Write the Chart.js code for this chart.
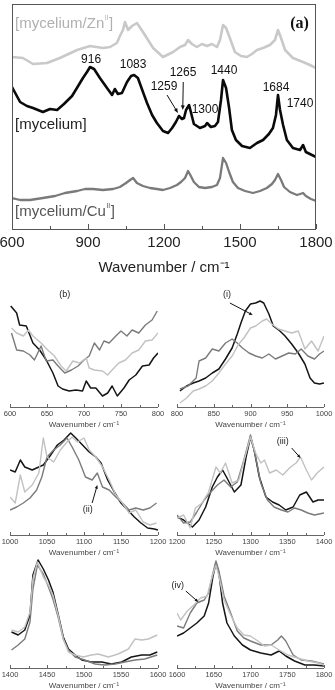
<!DOCTYPE html>
<html>
<head>
<meta charset="utf-8">
<script src="https://cdn.jsdelivr.net/npm/chart.js@4.4.1/dist/chart.umd.min.js"></script>
<style>
  body { margin: 0; background: #fff; width: 335px; height: 690px; overflow: hidden; position: relative; }
  canvas { position: absolute; }
</style>
</head>
<body>
<canvas id="chart-a" width="335" height="285" style="left:0;top:0"></canvas>
<canvas id="chart-b1" width="167" height="144" style="left:0;top:287px"></canvas>
<canvas id="chart-b2" width="168" height="144" style="left:167px;top:287px"></canvas>
<canvas id="chart-b3" width="167" height="144" style="left:0;top:415px"></canvas>
<canvas id="chart-b4" width="168" height="144" style="left:167px;top:415px"></canvas>
<canvas id="chart-b5" width="167" height="144" style="left:0;top:548px"></canvas>
<canvas id="chart-b6" width="168" height="144" style="left:167px;top:548px"></canvas>
<script>
// ---- panel (a): full range spectra, [wavenumber, intensity (offset, a.u.)]
const aZn = [[600,172],[643,171],[683,165],[738,166],[789,171],[857,179],[908,183],[959,181],[987,182],[1014,186],[1026,193],[1038,199],[1046,207],[1058,199],[1074,203],[1093,206],[1117,197],[1157,181],[1196,172],[1236,177],[1263,182],[1283,184],[1295,189],[1310,185],[1330,182],[1350,185],[1370,183],[1389,185],[1409,182],[1421,189],[1433,204],[1445,201],[1460,191],[1480,177],[1504,173],[1527,172],[1547,175],[1567,179],[1591,181],[1618,184],[1638,189],[1650,199],[1662,191],[1678,179],[1709,171],[1749,167],[1776,164],[1800,161]];
const aMycelium = [[600,142],[632,127],[659,123],[683,121],[722,117],[750,120],[778,119],[805,125],[837,133],[861,143],[880,151],[896,157],[908,162],[924,160],[947,151],[975,141],[995,134],[1006,140],[1018,135],[1034,136],[1054,147],[1070,153],[1082,154],[1097,151],[1117,137],[1133,126],[1153,114],[1172,106],[1196,98],[1216,96],[1232,101],[1247,107],[1259,113],[1271,110],[1279,111],[1287,119],[1299,124],[1306,117],[1318,105],[1342,101],[1362,103],[1370,106],[1385,102],[1401,103],[1413,107],[1425,129],[1433,149],[1445,141],[1457,121],[1468,99],[1484,89],[1508,83],[1539,81],[1567,86],[1591,89],[1614,95],[1630,101],[1642,114],[1650,134],[1658,119],[1670,104],[1685,89],[1709,81],[1737,79],[1749,84],[1760,77],[1776,75],[1800,72]];
const aCu = [[600,31],[632,29],[671,29],[722,31],[770,33],[809,36],[857,38],[888,40],[920,40],[959,39],[999,40],[1026,42],[1050,46],[1066,49],[1078,51],[1093,46],[1117,43],[1145,41],[1172,40],[1196,39],[1224,41],[1251,44],[1267,47],[1283,51],[1295,58],[1306,53],[1318,47],[1338,42],[1362,41],[1389,42],[1409,44],[1421,51],[1433,71],[1445,66],[1457,57],[1472,47],[1492,41],[1520,38],[1551,36],[1579,38],[1606,41],[1626,45],[1638,49],[1650,55],[1662,49],[1674,42],[1697,37],[1725,34],[1749,36],[1760,33],[1780,30],[1800,28]];
const aTicks = [600, 900, 1200, 1500, 1800];
const aPeaks = [['916',912,169],['1083',1078,164],['1259',1200,142],['1265',1275,156],['1440',1437,158],['1684',1642,141],['1740',1737,125],['1300',1362,119]];

// ---- panels (b): zoomed windows
const b1Black = [[601,101],[609,94],[613,82],[622,81],[631,64],[640,57],[649,47],[658,34],[665,21],[671,18],[680,16],[689,17],[698,16],[703,26],[709,19],[716,19],[725,11],[732,14],[738,21],[745,11],[754,19],[761,27],[770,32],[779,41],[788,42],[794,49],[800,54]];
const b1Zn = [[602,79],[609,74],[618,71],[625,77],[631,71],[642,64],[651,57],[660,51],[669,41],[676,36],[685,46],[694,44],[703,49],[707,39],[714,37],[725,36],[732,32],[738,37],[747,44],[756,47],[765,54],[774,57],[783,66],[792,67],[800,74]];
const b1Cu = [[602,74],[609,57],[618,56],[627,52],[633,47],[642,61],[649,46],[658,47],[665,41],[674,34],[683,37],[692,41],[700,47],[707,51],[714,64],[721,57],[727,66],[734,64],[743,71],[750,76],[758,71],[765,77],[774,74],[783,82],[792,87],[799,96]];

const b2Black = [[804,16],[813,21],[822,24],[830,26],[839,29],[848,34],[857,38],[866,48],[875,59],[882,73],[887,84],[893,96],[900,103],[907,104],[913,106],[918,104],[925,93],[931,81],[940,76],[947,71],[956,63],[965,54],[974,43],[981,29],[987,24],[994,23],[1000,24]];
const b2Zn = [[804,4],[813,9],[822,16],[830,18],[839,21],[848,26],[857,34],[866,43],[875,51],[884,63],[891,69],[900,79],[907,81],[916,86],[922,88],[929,83],[938,78],[947,76],[956,74],[965,76],[974,58],[983,66],[992,56],[1000,71]];
const b2Cu = [[804,18],[815,21],[826,29],[830,46],[839,49],[848,58],[857,56],[866,64],[875,68],[882,64],[889,59],[898,54],[907,51],[916,49],[925,53],[934,48],[943,51],[952,54],[961,53],[969,58],[978,51],[987,48],[994,53],[1000,56]];

const b3Black = [[1000,65],[1007,63],[1014,75],[1020,68],[1030,65],[1039,68],[1045,70],[1055,80],[1064,90],[1073,95],[1082,102],[1089,97],[1098,90],[1107,83],[1116,78],[1123,72],[1132,55],[1141,43],[1150,32],[1159,25],[1168,18],[1177,12],[1186,7],[1195,6],[1200,5]];
const b3Zn = [[1000,38],[1007,32],[1014,60],[1020,43],[1030,50],[1039,62],[1045,97],[1050,78],[1059,73],[1068,85],[1077,93],[1084,98],[1091,93],[1100,97],[1107,85],[1116,78],[1125,68],[1134,55],[1143,40],[1152,32],[1161,22],[1170,25],[1180,13],[1189,10],[1198,12]];
const b3Cu = [[1000,25],[1009,28],[1018,32],[1027,37],[1036,45],[1043,58],[1050,78],[1059,85],[1068,90],[1077,97],[1084,88],[1093,75],[1102,58],[1111,55],[1118,62],[1125,48],[1134,45],[1143,38],[1152,32],[1161,25],[1170,27],[1180,25],[1189,27],[1198,32]];

const b4Black = [[1200,18],[1209,15],[1221,8],[1230,15],[1239,28],[1248,48],[1255,58],[1262,65],[1268,57],[1278,43],[1287,50],[1294,78],[1300,98],[1305,85],[1312,58],[1321,38],[1330,33],[1339,30],[1348,25],[1358,28],[1367,40],[1376,43],[1385,33],[1392,35],[1400,35]];
const b4Zn = [[1200,17],[1209,20],[1218,7],[1225,27],[1234,32],[1243,43],[1253,68],[1259,62],[1266,72],[1275,52],[1284,55],[1294,82],[1300,98],[1307,82],[1314,72],[1319,75],[1326,62],[1335,65],[1344,60],[1353,67],[1362,72],[1368,78],[1376,65],[1383,55],[1392,63],[1400,68]];
const b4Cu = [[1200,20],[1209,12],[1218,13],[1227,23],[1237,35],[1246,43],[1255,50],[1264,55],[1273,48],[1282,53],[1291,75],[1300,100],[1307,78],[1314,52],[1323,35],[1332,28],[1342,25],[1351,23],[1360,27],[1369,25],[1378,22],[1387,20],[1400,22]];

const b5Black = [[1402,36],[1411,33],[1420,38],[1427,53],[1431,93],[1438,108],[1445,99],[1452,88],[1458,76],[1465,54],[1472,31],[1479,19],[1488,13],[1497,8],[1510,6],[1524,6],[1537,4],[1551,6],[1564,11],[1578,13],[1589,13],[1599,16]];
const b5Zn = [[1402,38],[1411,36],[1420,41],[1427,56],[1431,89],[1437,106],[1445,91],[1452,83],[1458,73],[1465,53],[1472,29],[1479,16],[1488,13],[1499,11],[1510,13],[1519,14],[1533,11],[1546,14],[1560,19],[1569,29],[1578,28],[1587,29],[1599,33]];
const b5Cu = [[1402,18],[1411,23],[1420,29],[1427,46],[1431,79],[1437,103],[1445,94],[1452,81],[1458,69],[1465,51],[1472,29],[1479,18],[1488,11],[1501,8],[1515,4],[1528,3],[1542,4],[1555,6],[1569,8],[1582,9],[1599,13]];

const b6Black = [[1600,32],[1609,35],[1618,40],[1627,45],[1637,52],[1643,65],[1649,92],[1653,105],[1657,95],[1662,65],[1668,45],[1678,32],[1689,23],[1700,18],[1714,15],[1728,13],[1739,17],[1748,12],[1760,7],[1774,3],[1787,3],[1800,2]];
const b6Zn = [[1600,55],[1605,48],[1614,57],[1623,63],[1632,70],[1641,72],[1648,92],[1653,103],[1657,92],[1664,68],[1673,53],[1682,40],[1691,33],[1700,32],[1710,27],[1719,22],[1728,23],[1739,18],[1751,13],[1764,10],[1778,7],[1792,5],[1800,3]];
const b6Cu = [[1600,42],[1609,40],[1618,55],[1627,65],[1637,68],[1643,75],[1649,95],[1653,107],[1657,97],[1664,72],[1673,55],[1682,37],[1691,30],[1700,27],[1714,23],[1728,23],[1737,28],[1742,32],[1748,27],[1758,13],[1769,8],[1783,7],[1800,4]];

const SANS = 'Arial, "Liberation Sans", sans-serif';
const AXIS_TITLE = 'Wavenumber / cm\u207B\u00B9';

function toPoints(pairs) {
    return pairs.map(p => ({ x: p[0], y: p[1] }));
}

function drawArrow(ctx, x1, y1, x2, y2, head) {
    const ang = Math.atan2(y2 - y1, x2 - x1);
    ctx.beginPath();
    ctx.moveTo(x1, y1);
    ctx.lineTo(x2 - Math.cos(ang) * head * 0.8, y2 - Math.sin(ang) * head * 0.8);
    ctx.stroke();
    ctx.beginPath();
    ctx.moveTo(x2, y2);
    ctx.lineTo(x2 - head * Math.cos(ang - 0.4), y2 - head * Math.sin(ang - 0.4));
    ctx.lineTo(x2 - head * Math.cos(ang + 0.4), y2 - head * Math.sin(ang + 0.4));
    ctx.closePath();
    ctx.fill();
}

// frame / axis line, inward ticks, labels and arrows
const decorPlugin = {
    id: 'decor',
    afterDatasetsDraw(chart, args, o) {
        const ctx = chart.ctx;
        const a = chart.chartArea;
        const xs = chart.scales.x;
        const ys = chart.scales.y;
        ctx.save();
        ctx.strokeStyle = o.axisColor;
        ctx.lineWidth = 1;
        if (o.frame) {
            ctx.strokeRect(a.left + 0.5, a.top + 0.5, a.right - a.left - 1, a.bottom - a.top);
        } else {
            ctx.beginPath();
            ctx.moveTo(a.left, a.bottom + 0.5);
            ctx.lineTo(a.right, a.bottom + 0.5);
            ctx.stroke();
        }
        ctx.beginPath();
        for (let v = xs.min; v <= xs.max; v += o.minor) {
            const px = Math.round(xs.getPixelForValue(v)) + 0.5;
            const len = (v - xs.min) % o.major === 0 ? o.majorLen : o.minorLen;
            ctx.moveTo(px, a.bottom);
            ctx.lineTo(px, a.bottom - len);
        }
        ctx.stroke();

        ctx.strokeStyle = '#111';
        ctx.fillStyle = '#111';
        ctx.lineWidth = o.arrowWidth || 1;
        (o.arrows || []).forEach(ar => {
            drawArrow(ctx, xs.getPixelForValue(ar[0]), ys.getPixelForValue(ar[1]),
                xs.getPixelForValue(ar[2]), ys.getPixelForValue(ar[3]), o.arrowHead || 4);
        });

        ctx.textBaseline = 'middle';
        (o.notes || []).forEach(n => {
            let x = xs.getPixelForValue(n.x);
            const y = ys.getPixelForValue(n.y);
            ctx.fillStyle = n.color;
            ctx.font = n.font;
            ctx.textAlign = n.align || 'center';
            if (!n.sup) {
                ctx.fillText(n.text, x, y);
                return;
            }
            ctx.textAlign = 'left';
            ctx.fillText(n.text, x, y);
            x += ctx.measureText(n.text).width + 0.5;
            ctx.font = n.supFont;
            ctx.fillText(n.sup, x, y - 6);
            x += ctx.measureText(n.sup).width + 0.5;
            ctx.font = n.font;
            ctx.fillText(n.after, x, y);
        });
        ctx.restore();
    }
};

function xScale(min, max, step, tickFont, titleFont, color, height, pad, titlePad) {
    return {
        type: 'linear',
        min: min,
        max: max,
        grid: { display: false, drawTicks: false },
        border: { display: false },
        ticks: {
            stepSize: step, autoSkip: false, maxRotation: 0, padding: pad, color: color,
            font: { family: SANS, size: tickFont },
            callback: value => String(value)
        },
        title: { display: true, text: AXIS_TITLE, color: color, font: { family: SANS, size: titleFont }, padding: { top: 0, bottom: titlePad } },
        afterFit: scale => {
            scale.height = height;
            scale.paddingLeft = 0;
            scale.paddingRight = 0;
        }
    };
}

function makeChart(id, datasets, xOpts, yMax, padding, decor) {
    return new Chart(document.getElementById(id), {
        type: 'line',
        data: { datasets: datasets },
        options: {
            responsive: false,
            animation: false,
            devicePixelRatio: 1,
            layout: { padding: padding },
            elements: { point: { radius: 0 }, line: { tension: 0, borderJoinStyle: 'round' } },
            scales: {
                x: xOpts,
                y: { display: false, min: 0, max: yMax }
            },
            plugins: { legend: { display: false }, tooltip: { enabled: false }, decor: decor }
        },
        plugins: [decorPlugin]
    });
}

function series(pairs, color, width) {
    return { data: toPoints(pairs), borderColor: color, borderWidth: width, fill: false };
}

// panel (a)
makeChart('chart-a', [
    series(aZn, '#c9c9c9', 2.6),
    series(aCu, '#7a7a7a', 2.3),
    series(aMycelium, '#0a0a0a', 2.6)
], xScale(aTicks[0], aTicks[aTicks.length - 1], aTicks[1] - aTicks[0], 15, 15, '#222', 56, 5, 8),
225, { left: 12, right: 19, top: 4, bottom: 0 }, {
    frame: true, axisColor: '#555', major: 300, minor: 150, majorLen: 5, minorLen: 3,
    arrowWidth: 1, arrowHead: 5,
    arrows: [[1212, 134, 1255, 116], [1276, 147, 1274, 119]],
    notes: [
        { text: '[mycelium/Zn', sup: 'II', after: ']', x: 612, y: 205, color: '#b0b0b0', font: '15px ' + SANS, supFont: '7px ' + SANS, align: 'left' },
        { text: '(a)', x: 1735, y: 205, color: '#111', font: 'bold 16px "Liberation Serif", "Times New Roman", serif' },
        { text: '[mycelium]', x: 612, y: 104, color: '#222', font: '15px ' + SANS, align: 'left' },
        { text: '[mycelium/Cu', sup: 'II', after: ']', x: 612, y: 17, color: '#555', font: '15px ' + SANS, supFont: '7px ' + SANS, align: 'left' }
    ].concat(aPeaks.map(p => ({ text: p[0], x: p[1], y: p[2], color: '#111', font: '12px ' + SANS })))
});

// panels (b)
const smallPanels = [
    { id: 'chart-b1', min: 600, black: b1Black, zn: b1Zn, cu: b1Cu, pad: { left: 10, right: 9, top: 10, bottom: 0 },
      notes: [{ text: '(b)', x: 674, y: 112 }], arrows: [] },
    { id: 'chart-b2', min: 800, black: b2Black, zn: b2Zn, cu: b2Cu, pad: { left: 10, right: 11, top: 10, bottom: 0 },
      notes: [{ text: '(i)', x: 868, y: 112 }], arrows: [[872, 104, 903, 92]] },
    { id: 'chart-b3', min: 1000, black: b3Black, zn: b3Zn, cu: b3Cu, pad: { left: 10, right: 9, top: 10, bottom: 0 },
      notes: [{ text: '(ii)', x: 1105, y: 25 }], arrows: [[1111, 32, 1118, 50]] },
    { id: 'chart-b4', min: 1200, black: b4Black, zn: b4Zn, cu: b4Cu, pad: { left: 10, right: 11, top: 10, bottom: 0 },
      notes: [{ text: '(iii)', x: 1344, y: 93 }], arrows: [[1356, 87, 1368, 77]] },
    { id: 'chart-b5', min: 1400, black: b5Black, zn: b5Zn, cu: b5Cu, pad: { left: 10, right: 9, top: 10, bottom: 0 },
      notes: [], arrows: [] },
    { id: 'chart-b6', min: 1600, black: b6Black, zn: b6Zn, cu: b6Cu, pad: { left: 10, right: 11, top: 10, bottom: 0 },
      notes: [{ text: '(iv)', x: 1601, y: 82 }], arrows: [[1612, 77, 1629, 66]] }
];

smallPanels.forEach(p => {
    makeChart(p.id, [
        series(p.zn, '#c2c2c2', 1.4),
        series(p.cu, '#7b7b7b', 1.4),
        series(p.black, '#151515', 1.5)
    ], xScale(p.min, p.min + 200, 50, 7.5, 8, '#444', 24, 2, 1),
    110, p.pad, {
        frame: false, axisColor: '#666', major: 50, minor: 25, majorLen: 3, minorLen: 2,
        arrowWidth: 1, arrowHead: 4,
        arrows: p.arrows,
        notes: p.notes.map(n => ({ text: n.text, x: n.x, y: n.y, color: '#222', font: '9px ' + SANS }))
    });
});
</script>
</body>
</html>
